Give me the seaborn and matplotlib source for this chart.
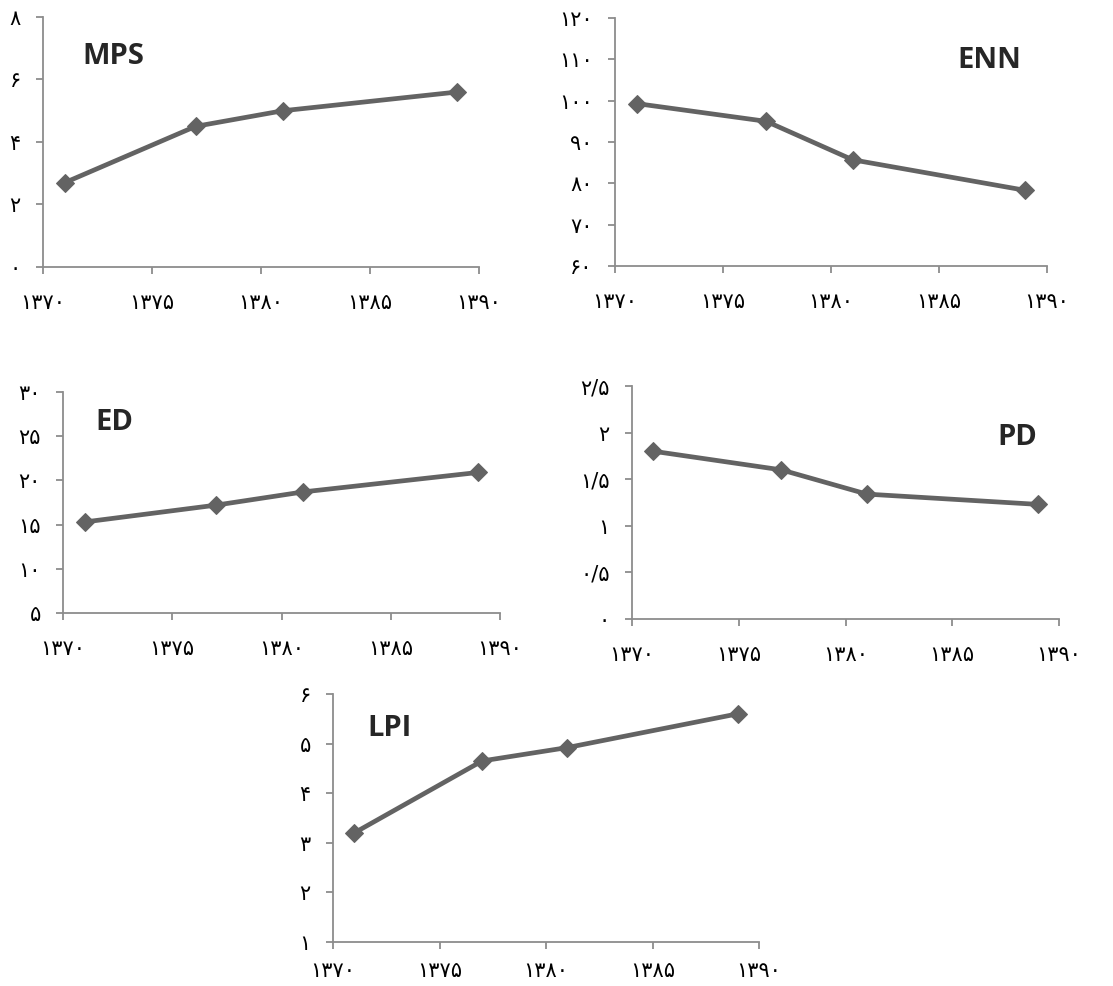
import matplotlib
matplotlib.use("Agg")
import matplotlib.pyplot as plt
import seaborn as sns
import pandas as pd

sns.set_style("white")
plt.rcParams["font.family"] = ["DejaVu Sans"]

years = [1371, 1377, 1381, 1389]
mps = [2.7, 4.5, 5.0, 5.6]
enn = [99.3, 95.0, 85.7, 78.3]
ed = [15.3, 17.2, 18.7, 20.9]
pd_vals = [1.80, 1.60, 1.34, 1.23]
lpi = [3.2, 4.65, 4.92, 5.6]

x_ticks = [1370, 1375, 1380, 1385, 1390]
fa_digits = str.maketrans("0123456789.", "۰۱۲۳۴۵۶۷۸۹/")


def fa(v):
    s = ("%g" % v)
    return s.translate(fa_digits)


W, H = 1113, 986
fig = plt.figure(figsize=(W / 100, H / 100), dpi=100)

# (name, values, ylim, yticks, box in pixels [left, top, right, bottom], label pos, label align, x pad)
panels = [
    ("MPS", mps, (0, 8), [0, 2, 4, 6, 8], (43, 17, 479, 267), (0.09, 0.84), "left", 14),
    ("ENN", enn, (60, 120), [60, 70, 80, 90, 100, 110, 120], (615, 18, 1047, 266), (0.94, 0.83), "right", 14),
    ("ED", ed, (5, 30), [5, 10, 15, 20, 25, 30], (63, 392, 500, 613), (0.075, 0.86), "left", 14),
    ("PD", pd_vals, (0, 2.5), [0, 0.5, 1, 1.5, 2, 2.5], (632, 386, 1059, 619), (0.95, 0.78), "right", 14),
    ("LPI", lpi, (1, 6), [1, 2, 3, 4, 5, 6], (333, 694, 759, 942), (0.08, 0.86), "left", 9),
]

axis_col = "#8c8c8c"
line_col = "#636363"

for name, vals, ylim, yticks, box, lpos, ha, xpad in panels:
    l, t, r, b = box
    ax = fig.add_axes([l / W, 1 - b / H, (r - l) / W, (b - t) / H])
    df = pd.DataFrame({"year": years, "value": vals})
    sns.lineplot(data=df, x="year", y="value", ax=ax, color=line_col,
                 linewidth=3.4, marker="D", markersize=9, markeredgecolor=line_col)
    ax.set_xlim(1370, 1390)
    ax.set_ylim(*ylim)
    ax.set_xticks(x_ticks)
    ax.set_xticklabels([fa(v) for v in x_ticks])
    ax.set_yticks(yticks)
    ax.set_yticklabels([fa(v) for v in yticks])
    ax.set_xlabel("")
    ax.set_ylabel("")
    for s in ["top", "right"]:
        ax.spines[s].set_visible(False)
    for s in ["left", "bottom"]:
        ax.spines[s].set_color(axis_col)
        ax.spines[s].set_linewidth(1.3)
    ax.tick_params(axis="both", direction="out", length=5, width=1.3, color=axis_col,
                   labelsize=15, labelcolor="black", bottom=True, left=True)
    ax.tick_params(axis="x", pad=xpad)
    ax.tick_params(axis="y", pad=11)
    ax.patch.set_alpha(0)
    ax.text(lpos[0], lpos[1], name, transform=ax.transAxes, ha=ha, va="center",
            fontsize=21, fontweight="bold", family="Open Sans")

fig.savefig("out.png", dpi=100, facecolor="white")
